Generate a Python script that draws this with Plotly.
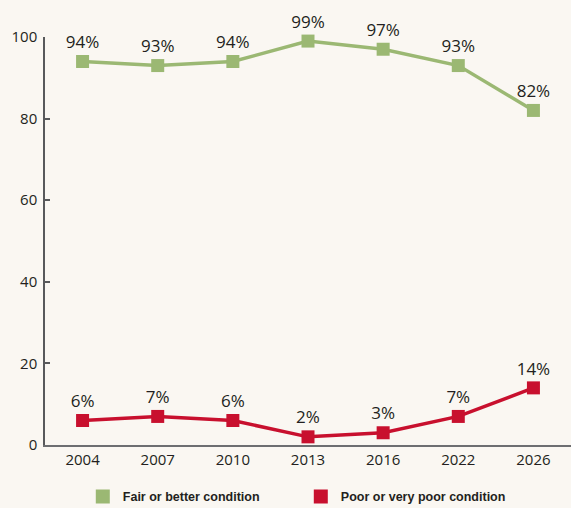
import plotly.graph_objects as go

years = ["2004", "2007", "2010", "2013", "2016", "2022", "2026"]
fair_better = [94, 93, 94, 99, 97, 93, 82]
poor = [6, 7, 6, 2, 3, 7, 14]
series_names = ["Fair or better condition", "Poor or very poor condition"]

green = "#9BB873"
red = "#C8102E"
bg = "#FAF7F2"
label_font = dict(family="Open Sans, sans-serif", size=17, color="#231F20")

fig = go.Figure()

for vals, color in [(fair_better, green), (poor, red)]:
    fig.add_trace(go.Scatter(
        x=years, y=vals,
        mode="lines+markers+text",
        line=dict(color=color, width=3.5),
        marker=dict(symbol="square", size=13, color=color),
        text=[f"{v}%" for v in vals],
        textposition="top center",
        textfont=label_font,
        cliponaxis=False,
        showlegend=False,
    ))

# legend entries: squares only
for name, color in zip(series_names, [green, red]):
    fig.add_trace(go.Scatter(
        x=[None], y=[None], mode="markers", name=name,
        marker=dict(symbol="square", size=14, color=color),
    ))

fig.update_layout(
    width=571, height=508,
    margin=dict(l=45, r=0, t=37, b=63),
    paper_bgcolor=bg, plot_bgcolor=bg,
    font=dict(family="Open Sans, sans-serif", size=15, color="#231F20"),
    legend=dict(
        orientation="h",
        xref="container", x=0.145, xanchor="left",
        yref="container", y=0.022, yanchor="middle",
        font=dict(family="Liberation Sans Narrow, sans-serif", size=12.5, color="#231F20", weight="bold"),
        entrywidth=173,
        itemwidth=30,
        bgcolor="rgba(0,0,0,0)",
    ),
    xaxis=dict(
        type="category", range=[-0.5, 6.5],
        showline=True, linecolor="#6D6E71", linewidth=2,
        showgrid=False, zeroline=False,
        ticks="", tickfont=dict(size=15),
    ),
    yaxis=dict(
        range=[0, 100], dtick=20,
        showline=True, linecolor="#58595B", linewidth=1.5,
        ticks="inside", ticklen=5, tickcolor="#58595B", tickwidth=1.5,
        showgrid=False, zeroline=False,
        tickfont=dict(size=15),
        ticklabelstandoff=3,
    ),
)

fig.write_html("out.html", config={"displayModeBar": False},
               post_script="document.body.style.margin='0';")
